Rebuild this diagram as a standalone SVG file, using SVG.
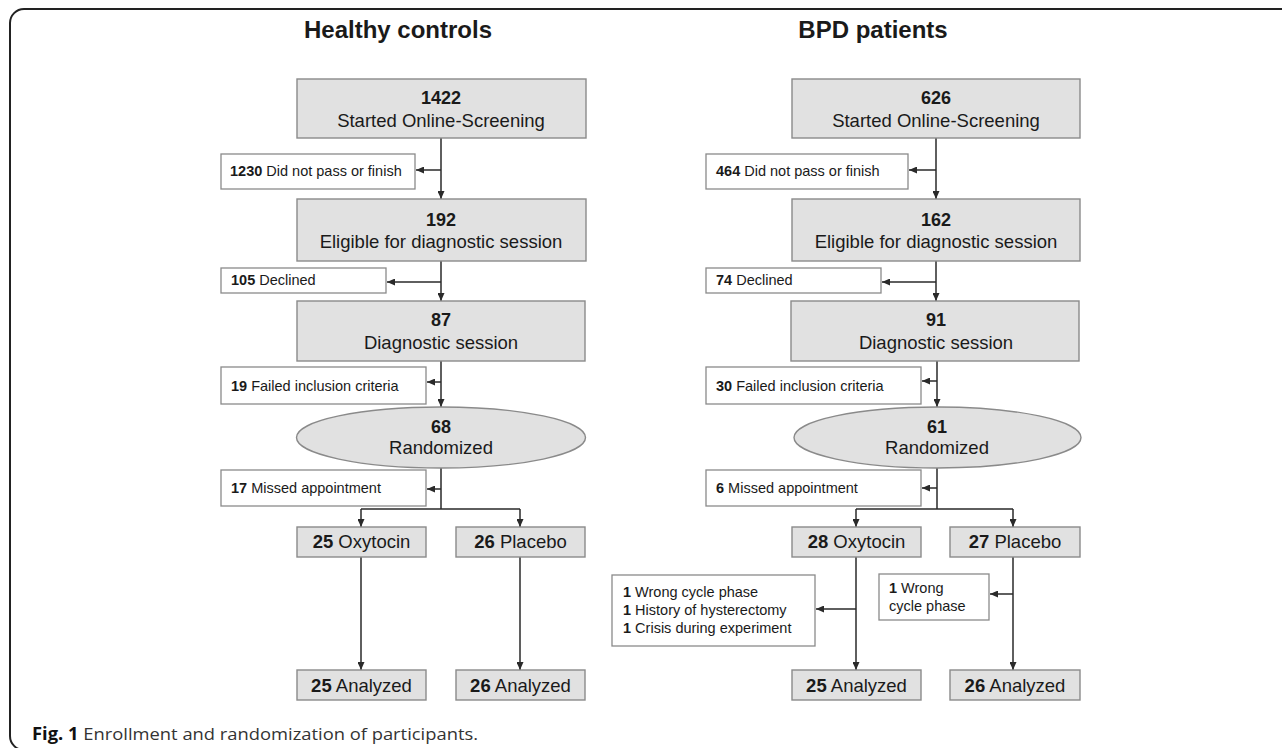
<svg xmlns="http://www.w3.org/2000/svg" width="1282" height="748" viewBox="0 0 1282 748">
<defs>
<style>
.bx{fill:#e1e1e1;stroke:#8a8a8a;stroke-width:1.4}
.sb{fill:#fff;stroke:#8a8a8a;stroke-width:1.3}
.t{font-family:"Liberation Sans",Arial,sans-serif;fill:#1a1a1a}
.ttl{font-size:24px;font-weight:bold;text-anchor:middle}
.num{font-size:18px;font-weight:bold;text-anchor:middle}
.lbl{font-size:18.5px;text-anchor:middle}
.sm{font-size:14.5px}
.b{font-weight:bold}
.cn{fill:none;stroke:#2a2a2a;stroke-width:1.5}
.cap{font-family:"Open Sans","Noto Sans",sans-serif;font-size:17px;fill:#333}
</style>
<marker id="ah" viewBox="0 0 8 7" refX="8" refY="3.5" markerWidth="8" markerHeight="7" markerUnits="userSpaceOnUse" orient="auto">
<path d="M0,0 L8,3.5 L0,7 z" fill="#2a2a2a"/>
</marker>
</defs>
<rect x="10" y="9" width="1300" height="741" rx="14" fill="#fff" stroke="#222" stroke-width="2"/>
<text class="t ttl" x="398" y="38">Healthy controls</text>
<text class="t ttl" x="873" y="38">BPD patients</text>

<g id="connectors">
<path class="cn" d="M441,138 V199" marker-end="url(#ah)"/>
<path class="cn" d="M441,170 H416" marker-end="url(#ah)"/>
<path class="cn" d="M441,261 V301" marker-end="url(#ah)"/>
<path class="cn" d="M441,282 H387" marker-end="url(#ah)"/>
<path class="cn" d="M441,361 V407" marker-end="url(#ah)"/>
<path class="cn" d="M441,382 H427" marker-end="url(#ah)"/>
<path class="cn" d="M441,468 V509 M361,509 H520"/>
<path class="cn" d="M441,489 H427" marker-end="url(#ah)"/>
<path class="cn" d="M361,509 V527" marker-end="url(#ah)"/>
<path class="cn" d="M520,509 V527" marker-end="url(#ah)"/>
<path class="cn" d="M361,557 V670" marker-end="url(#ah)"/>
<path class="cn" d="M520,557 V670" marker-end="url(#ah)"/>

<path class="cn" d="M936,138 V199" marker-end="url(#ah)"/>
<path class="cn" d="M936,170 H909" marker-end="url(#ah)"/>
<path class="cn" d="M936,261 V301" marker-end="url(#ah)"/>
<path class="cn" d="M936,282 H882" marker-end="url(#ah)"/>
<path class="cn" d="M937,361 V407" marker-end="url(#ah)"/>
<path class="cn" d="M937,381 H922" marker-end="url(#ah)"/>
<path class="cn" d="M937,468 V509 M856,509 H1013"/>
<path class="cn" d="M937,488 H922" marker-end="url(#ah)"/>
<path class="cn" d="M856,509 V527" marker-end="url(#ah)"/>
<path class="cn" d="M1013,509 V527" marker-end="url(#ah)"/>
<path class="cn" d="M856,557 V670" marker-end="url(#ah)"/>
<path class="cn" d="M856,609 H816" marker-end="url(#ah)"/>
<path class="cn" d="M1013,557 V670" marker-end="url(#ah)"/>
<path class="cn" d="M1013,594 H990" marker-end="url(#ah)"/>
</g>

<g id="hc-screen"><rect class="bx" x="297" y="79" width="289" height="59"/><text class="t num" x="441" y="104">1422</text><text class="t lbl" x="441" y="127">Started Online-Screening</text></g>
<g id="hc-notpass"><rect class="sb" x="221" y="154" width="194" height="35"/><text class="t sm" x="230" y="176"><tspan class="b">1230</tspan> Did not pass or finish</text></g>
<g id="hc-eligible"><rect class="bx" x="297" y="199" width="289" height="62"/><text class="t num" x="441" y="226">192</text><text class="t lbl" x="441" y="248">Eligible for diagnostic session</text></g>
<g id="hc-declined"><rect class="sb" x="221" y="268" width="165" height="25"/><text class="t sm" x="231" y="285"><tspan class="b">105</tspan> Declined</text></g>
<g id="hc-diag"><rect class="bx" x="297" y="301" width="288" height="60"/><text class="t num" x="441" y="326">87</text><text class="t lbl" x="441" y="349">Diagnostic session</text></g>
<g id="hc-failed"><rect class="sb" x="221" y="367" width="205" height="37"/><text class="t sm" x="231" y="391"><tspan class="b">19</tspan> Failed inclusion criteria</text></g>
<g id="hc-rand"><ellipse class="bx" cx="441" cy="437.5" rx="144.5" ry="30.5"/><text class="t num" x="441" y="433">68</text><text class="t lbl" x="441" y="454">Randomized</text></g>
<g id="hc-missed"><rect class="sb" x="221" y="470" width="205" height="36"/><text class="t sm" x="231" y="493"><tspan class="b">17</tspan> Missed appointment</text></g>
<g id="hc-oxy"><rect class="bx" x="297" y="527" width="129" height="30"/><text class="t lbl" x="361.5" y="548"><tspan class="b">25</tspan> Oxytocin</text></g>
<g id="hc-plac"><rect class="bx" x="456" y="527" width="129" height="30"/><text class="t lbl" x="520.5" y="548"><tspan class="b">26</tspan> Placebo</text></g>
<g id="hc-an1"><rect class="bx" x="297" y="670" width="129" height="30"/><text class="t lbl" x="361.5" y="692"><tspan class="b">25</tspan> Analyzed</text></g>
<g id="hc-an2"><rect class="bx" x="456" y="670" width="129" height="30"/><text class="t lbl" x="520.5" y="692"><tspan class="b">26</tspan> Analyzed</text></g>

<g id="bpd-screen"><rect class="bx" x="792" y="79" width="288" height="59"/><text class="t num" x="936" y="104">626</text><text class="t lbl" x="936" y="127">Started Online-Screening</text></g>
<g id="bpd-notpass"><rect class="sb" x="706" y="154" width="202" height="35"/><text class="t sm" x="716" y="176"><tspan class="b">464</tspan> Did not pass or finish</text></g>
<g id="bpd-eligible"><rect class="bx" x="792" y="199" width="288" height="62"/><text class="t num" x="936" y="226">162</text><text class="t lbl" x="936" y="248">Eligible for diagnostic session</text></g>
<g id="bpd-declined"><rect class="sb" x="706" y="268" width="175" height="25"/><text class="t sm" x="716" y="285"><tspan class="b">74</tspan> Declined</text></g>
<g id="bpd-diag"><rect class="bx" x="791" y="301" width="288" height="60"/><text class="t num" x="936" y="326">91</text><text class="t lbl" x="936" y="349">Diagnostic session</text></g>
<g id="bpd-failed"><rect class="sb" x="706" y="367" width="215" height="37"/><text class="t sm" x="716" y="391"><tspan class="b">30</tspan> Failed inclusion criteria</text></g>
<g id="bpd-rand"><ellipse class="bx" cx="937.5" cy="437.5" rx="143.5" ry="30.5"/><text class="t num" x="937" y="433">61</text><text class="t lbl" x="937" y="454">Randomized</text></g>
<g id="bpd-missed"><rect class="sb" x="706" y="470" width="215" height="36"/><text class="t sm" x="716" y="493"><tspan class="b">6</tspan> Missed appointment</text></g>
<g id="bpd-oxy"><rect class="bx" x="792" y="527" width="129" height="30"/><text class="t lbl" x="856.5" y="548"><tspan class="b">28</tspan> Oxytocin</text></g>
<g id="bpd-plac"><rect class="bx" x="950" y="527" width="130" height="30"/><text class="t lbl" x="1015" y="548"><tspan class="b">27</tspan> Placebo</text></g>
<g id="bpd-excl-oxy"><rect class="sb" x="612" y="575" width="203" height="71"/><text class="t sm" x="623" y="597"><tspan class="b">1</tspan> Wrong cycle phase</text><text class="t sm" x="623" y="615"><tspan class="b">1</tspan> History of hysterectomy</text><text class="t sm" x="623" y="633"><tspan class="b">1</tspan> Crisis during experiment</text></g>
<g id="bpd-excl-plac"><rect class="sb" x="879" y="574" width="110" height="46"/><text class="t sm" x="889" y="593"><tspan class="b">1</tspan> Wrong</text><text class="t sm" x="889" y="611">cycle phase</text></g>
<g id="bpd-an1"><rect class="bx" x="792" y="670" width="129" height="30"/><text class="t lbl" x="856.5" y="692"><tspan class="b">25</tspan> Analyzed</text></g>
<g id="bpd-an2"><rect class="bx" x="950" y="670" width="130" height="30"/><text class="t lbl" x="1015" y="692"><tspan class="b">26</tspan> Analyzed</text></g>

<text class="cap" x="32" y="740" textLength="446" lengthAdjust="spacingAndGlyphs"><tspan font-weight="bold" fill="#111">Fig. 1</tspan> Enrollment and randomization of participants.</text>
</svg>
